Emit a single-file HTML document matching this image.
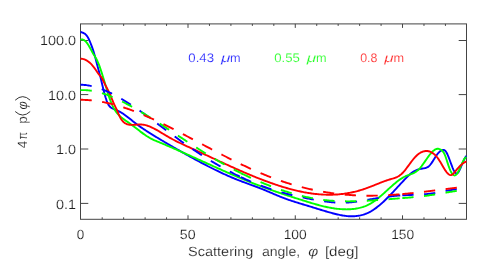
<!DOCTYPE html>
<html><head><meta charset="utf-8"><title>Phase function</title>
<style>
html,body{margin:0;padding:0;background:#fff;}
body{width:491px;height:271px;overflow:hidden;}
svg{display:block;}
text{font-family:"Liberation Sans",sans-serif;text-rendering:geometricPrecision;}
</style></head><body>
<svg width="491" height="271" viewBox="0 0 491 271">
<rect x="0" y="0" width="491" height="271" fill="#ffffff"/>
<defs><filter id="idf" x="-5%" y="-5%" width="110%" height="110%" color-interpolation-filters="sRGB"><feOffset dx="0" dy="0"/></filter><clipPath id="pc"><rect x="80.0" y="23.9" width="386.8" height="195.4"/></clipPath></defs>

<g stroke="#444444" stroke-width="1" fill="none">
<rect x="80.5" y="23.9" width="386.0" height="195.4"/>
<path d="M102.20,219.3 v-2.0 M102.20,23.9 v2.0"/>
<path d="M123.65,219.3 v-2.0 M123.65,23.9 v2.0"/>
<path d="M145.11,219.3 v-2.0 M145.11,23.9 v2.0"/>
<path d="M166.56,219.3 v-2.0 M166.56,23.9 v2.0"/>
<path d="M188.01,219.3 v-4.0 M188.01,23.9 v4.0"/>
<path d="M209.46,219.3 v-2.0 M209.46,23.9 v2.0"/>
<path d="M230.91,219.3 v-2.0 M230.91,23.9 v2.0"/>
<path d="M252.37,219.3 v-2.0 M252.37,23.9 v2.0"/>
<path d="M273.82,219.3 v-2.0 M273.82,23.9 v2.0"/>
<path d="M295.27,219.3 v-4.0 M295.27,23.9 v4.0"/>
<path d="M316.72,219.3 v-2.0 M316.72,23.9 v2.0"/>
<path d="M338.17,219.3 v-2.0 M338.17,23.9 v2.0"/>
<path d="M359.63,219.3 v-2.0 M359.63,23.9 v2.0"/>
<path d="M381.08,219.3 v-2.0 M381.08,23.9 v2.0"/>
<path d="M402.53,219.3 v-4.0 M402.53,23.9 v4.0"/>
<path d="M423.98,219.3 v-2.0 M423.98,23.9 v2.0"/>
<path d="M445.43,219.3 v-2.0 M445.43,23.9 v2.0"/>
<path d="M80.5,40.5 h7.8 M466.5,40.5 h-7.8"/>
<path d="M80.5,94.6 h7.8 M466.5,94.6 h-7.8"/>
<path d="M80.5,149.0 h7.8 M466.5,149.0 h-7.8"/>
<path d="M80.5,203.4 h7.8 M466.5,203.4 h-7.8"/>
</g>
<g clip-path="url(#pc)" fill="none" stroke-linejoin="round">
<path d="M80.5,32.03 L81.5,32.27 L82.5,32.58 L83.5,33.00 L84.5,33.58 L85.5,34.37 L86.5,35.42 L87.5,36.78 L88.5,38.49 L89.5,40.59 L90.5,43.00 L91.5,45.62 L92.5,48.40 L93.5,51.40 L94.5,54.69 L95.5,58.33 L96.5,62.19 L97.5,65.98 L98.5,69.65 L99.5,73.38 L100.5,77.33 L101.5,81.48 L102.5,85.69 L103.5,89.82 L104.5,93.70 L105.5,97.21 L106.5,100.29 L107.5,102.86 L108.5,104.87 L109.5,106.28 L110.5,107.23 L111.5,107.90 L112.5,108.45 L113.5,108.93 L114.5,109.36 L115.5,109.77 L116.5,110.18 L117.5,110.60 L118.5,111.05 L119.5,111.56 L120.5,112.11 L121.5,112.70 L122.5,113.33 L123.5,114.00 L124.5,114.70 L125.5,115.42 L126.5,116.17 L127.5,116.93 L128.5,117.71 L129.5,118.51 L130.5,119.31 L131.5,120.11 L132.5,120.92 L133.5,121.72 L134.5,122.51 L135.5,123.29 L136.5,124.05 L137.5,124.80 L138.5,125.53 L139.5,126.25 L140.5,126.95 L141.5,127.64 L142.5,128.32 L143.5,128.99 L144.5,129.65 L145.5,130.30 L146.5,130.94 L147.5,131.58 L148.5,132.22 L149.5,132.85 L150.5,133.48 L151.5,134.10 L152.5,134.73 L153.5,135.35 L154.5,135.96 L155.5,136.58 L156.5,137.19 L157.5,137.80 L158.5,138.41 L159.5,139.01 L160.5,139.61 L161.5,140.21 L162.5,140.81 L163.5,141.40 L164.5,141.99 L165.5,142.59 L166.5,143.17 L167.5,143.76 L168.5,144.35 L169.5,144.93 L170.5,145.51 L171.5,146.09 L172.5,146.67 L173.5,147.25 L174.5,147.82 L175.5,148.40 L176.5,148.97 L177.5,149.54 L178.5,150.11 L179.5,150.68 L180.5,151.25 L181.5,151.82 L182.5,152.38 L183.5,152.95 L184.5,153.51 L185.5,154.08 L186.5,154.64 L187.5,155.20 L188.5,155.75 L189.5,156.31 L190.5,156.87 L191.5,157.42 L192.5,157.97 L193.5,158.52 L194.5,159.07 L195.5,159.61 L196.5,160.15 L197.5,160.69 L198.5,161.23 L199.5,161.77 L200.5,162.30 L201.5,162.84 L202.5,163.36 L203.5,163.89 L204.5,164.41 L205.5,164.94 L206.5,165.45 L207.5,165.97 L208.5,166.48 L209.5,166.99 L210.5,167.50 L211.5,168.00 L212.5,168.50 L213.5,169.00 L214.5,169.50 L215.5,169.99 L216.5,170.47 L217.5,170.96 L218.5,171.44 L219.5,171.91 L220.5,172.39 L221.5,172.86 L222.5,173.32 L223.5,173.78 L224.5,174.24 L225.5,174.70 L226.5,175.15 L227.5,175.59 L228.5,176.03 L229.5,176.47 L230.5,176.90 L231.5,177.33 L232.5,177.75 L233.5,178.17 L234.5,178.59 L235.5,179.00 L236.5,179.40 L237.5,179.80 L238.5,180.20 L239.5,180.59 L240.5,180.98 L241.5,181.36 L242.5,181.74 L243.5,182.11 L244.5,182.48 L245.5,182.85 L246.5,183.22 L247.5,183.58 L248.5,183.94 L249.5,184.31 L250.5,184.67 L251.5,185.03 L252.5,185.40 L253.5,185.76 L254.5,186.13 L255.5,186.50 L256.5,186.87 L257.5,187.24 L258.5,187.62 L259.5,188.01 L260.5,188.39 L261.5,188.78 L262.5,189.18 L263.5,189.59 L264.5,190.00 L265.5,190.41 L266.5,190.83 L267.5,191.26 L268.5,191.69 L269.5,192.12 L270.5,192.56 L271.5,192.99 L272.5,193.43 L273.5,193.86 L274.5,194.29 L275.5,194.72 L276.5,195.15 L277.5,195.57 L278.5,195.99 L279.5,196.40 L280.5,196.81 L281.5,197.21 L282.5,197.59 L283.5,197.98 L284.5,198.35 L285.5,198.72 L286.5,199.08 L287.5,199.43 L288.5,199.78 L289.5,200.12 L290.5,200.46 L291.5,200.79 L292.5,201.12 L293.5,201.44 L294.5,201.76 L295.5,202.08 L296.5,202.39 L297.5,202.70 L298.5,203.01 L299.5,203.32 L300.5,203.62 L301.5,203.92 L302.5,204.22 L303.5,204.52 L304.5,204.82 L305.5,205.12 L306.5,205.42 L307.5,205.72 L308.5,206.02 L309.5,206.32 L310.5,206.62 L311.5,206.93 L312.5,207.24 L313.5,207.55 L314.5,207.86 L315.5,208.17 L316.5,208.48 L317.5,208.79 L318.5,209.10 L319.5,209.41 L320.5,209.72 L321.5,210.02 L322.5,210.33 L323.5,210.63 L324.5,210.94 L325.5,211.23 L326.5,211.53 L327.5,211.82 L328.5,212.11 L329.5,212.39 L330.5,212.67 L331.5,212.95 L332.5,213.22 L333.5,213.48 L334.5,213.74 L335.5,213.99 L336.5,214.23 L337.5,214.46 L338.5,214.68 L339.5,214.90 L340.5,215.10 L341.5,215.28 L342.5,215.46 L343.5,215.62 L344.5,215.76 L345.5,215.89 L346.5,216.01 L347.5,216.10 L348.5,216.18 L349.5,216.24 L350.5,216.27 L351.5,216.29 L352.5,216.29 L353.5,216.26 L354.5,216.21 L355.5,216.14 L356.5,216.04 L357.5,215.92 L358.5,215.76 L359.5,215.59 L360.5,215.38 L361.5,215.14 L362.5,214.88 L363.5,214.58 L364.5,214.25 L365.5,213.89 L366.5,213.50 L367.5,213.07 L368.5,212.61 L369.5,212.11 L370.5,211.57 L371.5,211.00 L372.5,210.39 L373.5,209.75 L374.5,209.07 L375.5,208.36 L376.5,207.62 L377.5,206.85 L378.5,206.05 L379.5,205.23 L380.5,204.37 L381.5,203.50 L382.5,202.60 L383.5,201.68 L384.5,200.73 L385.5,199.77 L386.5,198.79 L387.5,197.80 L388.5,196.79 L389.5,195.76 L390.5,194.72 L391.5,193.67 L392.5,192.61 L393.5,191.55 L394.5,190.47 L395.5,189.39 L396.5,188.30 L397.5,187.22 L398.5,186.13 L399.5,185.04 L400.5,183.96 L401.5,182.87 L402.5,181.80 L403.5,180.73 L404.5,179.67 L405.5,178.62 L406.5,177.59 L407.5,176.58 L408.5,175.61 L409.5,174.69 L410.5,173.81 L411.5,173.01 L412.5,172.28 L413.5,171.63 L414.5,171.06 L415.5,170.56 L416.5,170.13 L417.5,169.75 L418.5,169.43 L419.5,169.15 L420.5,168.91 L421.5,168.70 L422.5,168.52 L423.5,168.35 L424.5,168.19 L425.5,167.98 L426.5,167.68 L427.5,167.23 L428.5,166.58 L429.5,165.67 L430.5,164.50 L431.5,163.14 L432.5,161.64 L433.5,160.04 L434.5,158.43 L435.5,156.83 L436.5,155.33 L437.5,153.96 L438.5,152.79 L439.5,151.83 L440.5,151.05 L441.5,150.44 L442.5,150.03 L443.5,149.93 L444.5,150.24 L445.5,151.08 L446.5,152.53 L447.5,154.50 L448.5,156.86 L449.5,159.48 L450.5,162.22 L451.5,164.94 L452.5,167.52 L453.5,169.82 L454.5,171.71 L455.5,173.03 L456.5,173.59 L457.5,173.22 L458.5,172.02 L459.5,170.23 L460.5,168.03 L461.5,165.60 L462.5,163.13 L463.5,160.80 L464.5,158.75 L465.5,157.07 L466.5,155.80" stroke="#0000ff" stroke-width="1.9"/>

<path d="M80.5,39.61 L81.5,39.41 L82.5,39.48 L83.5,39.81 L84.5,40.40 L85.5,41.24 L86.5,42.32 L87.5,43.65 L88.5,45.20 L89.5,46.94 L90.5,48.78 L91.5,50.66 L92.5,52.48 L93.5,54.19 L94.5,55.84 L95.5,57.51 L96.5,59.30 L97.5,61.27 L98.5,63.53 L99.5,66.13 L100.5,69.02 L101.5,72.10 L102.5,75.25 L103.5,78.46 L104.5,81.75 L105.5,85.12 L106.5,88.56 L107.5,91.93 L108.5,95.11 L109.5,98.08 L110.5,100.83 L111.5,103.33 L112.5,105.59 L113.5,107.60 L114.5,109.38 L115.5,110.96 L116.5,112.35 L117.5,113.59 L118.5,114.70 L119.5,115.69 L120.5,116.60 L121.5,117.45 L122.5,118.26 L123.5,119.02 L124.5,119.76 L125.5,120.47 L126.5,121.17 L127.5,121.86 L128.5,122.55 L129.5,123.24 L130.5,123.96 L131.5,124.69 L132.5,125.44 L133.5,126.20 L134.5,126.96 L135.5,127.74 L136.5,128.52 L137.5,129.30 L138.5,130.08 L139.5,130.86 L140.5,131.63 L141.5,132.38 L142.5,133.13 L143.5,133.86 L144.5,134.57 L145.5,135.26 L146.5,135.93 L147.5,136.56 L148.5,137.17 L149.5,137.75 L150.5,138.30 L151.5,138.82 L152.5,139.32 L153.5,139.80 L154.5,140.27 L155.5,140.71 L156.5,141.15 L157.5,141.57 L158.5,141.99 L159.5,142.41 L160.5,142.82 L161.5,143.23 L162.5,143.65 L163.5,144.07 L164.5,144.49 L165.5,144.91 L166.5,145.34 L167.5,145.76 L168.5,146.19 L169.5,146.62 L170.5,147.05 L171.5,147.48 L172.5,147.91 L173.5,148.35 L174.5,148.78 L175.5,149.22 L176.5,149.66 L177.5,150.10 L178.5,150.54 L179.5,150.98 L180.5,151.42 L181.5,151.87 L182.5,152.31 L183.5,152.76 L184.5,153.20 L185.5,153.65 L186.5,154.10 L187.5,154.55 L188.5,154.99 L189.5,155.44 L190.5,155.89 L191.5,156.35 L192.5,156.80 L193.5,157.25 L194.5,157.70 L195.5,158.15 L196.5,158.61 L197.5,159.06 L198.5,159.51 L199.5,159.96 L200.5,160.42 L201.5,160.87 L202.5,161.32 L203.5,161.78 L204.5,162.23 L205.5,162.68 L206.5,163.14 L207.5,163.59 L208.5,164.04 L209.5,164.49 L210.5,164.94 L211.5,165.40 L212.5,165.85 L213.5,166.30 L214.5,166.75 L215.5,167.20 L216.5,167.64 L217.5,168.09 L218.5,168.54 L219.5,168.98 L220.5,169.43 L221.5,169.88 L222.5,170.32 L223.5,170.76 L224.5,171.20 L225.5,171.64 L226.5,172.08 L227.5,172.52 L228.5,172.96 L229.5,173.40 L230.5,173.83 L231.5,174.27 L232.5,174.70 L233.5,175.13 L234.5,175.56 L235.5,175.99 L236.5,176.42 L237.5,176.84 L238.5,177.27 L239.5,177.69 L240.5,178.11 L241.5,178.53 L242.5,178.94 L243.5,179.36 L244.5,179.77 L245.5,180.18 L246.5,180.59 L247.5,181.00 L248.5,181.41 L249.5,181.81 L250.5,182.21 L251.5,182.61 L252.5,183.01 L253.5,183.41 L254.5,183.80 L255.5,184.19 L256.5,184.58 L257.5,184.96 L258.5,185.35 L259.5,185.73 L260.5,186.11 L261.5,186.48 L262.5,186.86 L263.5,187.23 L264.5,187.60 L265.5,187.96 L266.5,188.33 L267.5,188.69 L268.5,189.04 L269.5,189.40 L270.5,189.75 L271.5,190.10 L272.5,190.45 L273.5,190.80 L274.5,191.14 L275.5,191.49 L276.5,191.83 L277.5,192.17 L278.5,192.51 L279.5,192.84 L280.5,193.18 L281.5,193.51 L282.5,193.84 L283.5,194.17 L284.5,194.50 L285.5,194.82 L286.5,195.15 L287.5,195.48 L288.5,195.80 L289.5,196.12 L290.5,196.44 L291.5,196.77 L292.5,197.09 L293.5,197.41 L294.5,197.72 L295.5,198.04 L296.5,198.36 L297.5,198.68 L298.5,199.00 L299.5,199.31 L300.5,199.63 L301.5,199.95 L302.5,200.26 L303.5,200.58 L304.5,200.89 L305.5,201.21 L306.5,201.52 L307.5,201.83 L308.5,202.14 L309.5,202.45 L310.5,202.75 L311.5,203.05 L312.5,203.35 L313.5,203.64 L314.5,203.93 L315.5,204.22 L316.5,204.50 L317.5,204.77 L318.5,205.04 L319.5,205.31 L320.5,205.57 L321.5,205.82 L322.5,206.07 L323.5,206.31 L324.5,206.55 L325.5,206.77 L326.5,206.99 L327.5,207.20 L328.5,207.41 L329.5,207.60 L330.5,207.79 L331.5,207.97 L332.5,208.13 L333.5,208.29 L334.5,208.44 L335.5,208.58 L336.5,208.70 L337.5,208.82 L338.5,208.93 L339.5,209.02 L340.5,209.10 L341.5,209.17 L342.5,209.23 L343.5,209.27 L344.5,209.30 L345.5,209.32 L346.5,209.33 L347.5,209.32 L348.5,209.29 L349.5,209.25 L350.5,209.20 L351.5,209.13 L352.5,209.05 L353.5,208.95 L354.5,208.83 L355.5,208.69 L356.5,208.53 L357.5,208.35 L358.5,208.15 L359.5,207.93 L360.5,207.68 L361.5,207.40 L362.5,207.10 L363.5,206.77 L364.5,206.42 L365.5,206.03 L366.5,205.61 L367.5,205.16 L368.5,204.67 L369.5,204.16 L370.5,203.60 L371.5,203.01 L372.5,202.39 L373.5,201.72 L374.5,201.02 L375.5,200.29 L376.5,199.53 L377.5,198.75 L378.5,197.93 L379.5,197.10 L380.5,196.25 L381.5,195.38 L382.5,194.49 L383.5,193.60 L384.5,192.70 L385.5,191.79 L386.5,190.87 L387.5,189.96 L388.5,189.04 L389.5,188.13 L390.5,187.23 L391.5,186.34 L392.5,185.45 L393.5,184.59 L394.5,183.73 L395.5,182.90 L396.5,182.09 L397.5,181.31 L398.5,180.55 L399.5,179.82 L400.5,179.13 L401.5,178.47 L402.5,177.85 L403.5,177.26 L404.5,176.73 L405.5,176.23 L406.5,175.79 L407.5,175.38 L408.5,175.02 L409.5,174.66 L410.5,174.31 L411.5,173.95 L412.5,173.55 L413.5,173.11 L414.5,172.61 L415.5,172.03 L416.5,171.36 L417.5,170.59 L418.5,169.69 L419.5,168.67 L420.5,167.52 L421.5,166.27 L422.5,164.94 L423.5,163.55 L424.5,162.11 L425.5,160.66 L426.5,159.21 L427.5,157.77 L428.5,156.37 L429.5,155.03 L430.5,153.77 L431.5,152.61 L432.5,151.56 L433.5,150.65 L434.5,149.89 L435.5,149.32 L436.5,148.94 L437.5,148.77 L438.5,148.82 L439.5,149.08 L440.5,149.53 L441.5,150.16 L442.5,151.03 L443.5,152.29 L444.5,154.07 L445.5,156.51 L446.5,159.48 L447.5,162.63 L448.5,165.64 L449.5,168.40 L450.5,170.81 L451.5,172.77 L452.5,174.24 L453.5,175.15 L454.5,175.47 L455.5,175.19 L456.5,174.38 L457.5,173.08 L458.5,171.35 L459.5,169.28 L460.5,166.99 L461.5,164.63 L462.5,162.36 L463.5,160.32 L464.5,158.67 L465.5,157.55 L466.5,157.12" stroke="#00ff00" stroke-width="1.9"/>

<path d="M80.5,58.80 L81.5,58.78 L82.5,58.87 L83.5,59.07 L84.5,59.38 L85.5,59.80 L86.5,60.32 L87.5,60.94 L88.5,61.67 L89.5,62.50 L90.5,63.42 L91.5,64.45 L92.5,65.57 L93.5,66.79 L94.5,68.10 L95.5,69.50 L96.5,71.00 L97.5,72.54 L98.5,73.88 L99.5,75.04 L100.5,76.19 L101.5,77.53 L102.5,79.22 L103.5,81.21 L104.5,83.30 L105.5,85.31 L106.5,87.22 L107.5,89.13 L108.5,91.14 L109.5,93.32 L110.5,95.64 L111.5,98.03 L112.5,100.44 L113.5,102.79 L114.5,105.01 L115.5,107.07 L116.5,109.11 L117.5,111.37 L118.5,113.81 L119.5,116.09 L120.5,118.02 L121.5,119.64 L122.5,120.97 L123.5,122.03 L124.5,122.87 L125.5,123.51 L126.5,123.99 L127.5,124.32 L128.5,124.55 L129.5,124.71 L130.5,124.80 L131.5,124.85 L132.5,124.86 L133.5,124.84 L134.5,124.79 L135.5,124.73 L136.5,124.67 L137.5,124.61 L138.5,124.55 L139.5,124.52 L140.5,124.52 L141.5,124.55 L142.5,124.63 L143.5,124.76 L144.5,124.94 L145.5,125.16 L146.5,125.42 L147.5,125.73 L148.5,126.07 L149.5,126.45 L150.5,126.86 L151.5,127.31 L152.5,127.78 L153.5,128.27 L154.5,128.79 L155.5,129.33 L156.5,129.88 L157.5,130.45 L158.5,131.04 L159.5,131.63 L160.5,132.23 L161.5,132.84 L162.5,133.45 L163.5,134.05 L164.5,134.66 L165.5,135.26 L166.5,135.86 L167.5,136.44 L168.5,137.01 L169.5,137.58 L170.5,138.13 L171.5,138.68 L172.5,139.22 L173.5,139.75 L174.5,140.27 L175.5,140.78 L176.5,141.29 L177.5,141.79 L178.5,142.28 L179.5,142.77 L180.5,143.26 L181.5,143.74 L182.5,144.21 L183.5,144.68 L184.5,145.15 L185.5,145.62 L186.5,146.08 L187.5,146.54 L188.5,146.99 L189.5,147.45 L190.5,147.91 L191.5,148.36 L192.5,148.81 L193.5,149.27 L194.5,149.72 L195.5,150.18 L196.5,150.64 L197.5,151.10 L198.5,151.55 L199.5,152.01 L200.5,152.48 L201.5,152.94 L202.5,153.40 L203.5,153.86 L204.5,154.32 L205.5,154.79 L206.5,155.25 L207.5,155.71 L208.5,156.18 L209.5,156.64 L210.5,157.11 L211.5,157.57 L212.5,158.04 L213.5,158.50 L214.5,158.96 L215.5,159.43 L216.5,159.89 L217.5,160.36 L218.5,160.82 L219.5,161.28 L220.5,161.74 L221.5,162.20 L222.5,162.66 L223.5,163.12 L224.5,163.58 L225.5,164.04 L226.5,164.50 L227.5,164.96 L228.5,165.41 L229.5,165.87 L230.5,166.32 L231.5,166.77 L232.5,167.22 L233.5,167.67 L234.5,168.12 L235.5,168.57 L236.5,169.01 L237.5,169.46 L238.5,169.90 L239.5,170.34 L240.5,170.78 L241.5,171.22 L242.5,171.65 L243.5,172.08 L244.5,172.52 L245.5,172.94 L246.5,173.37 L247.5,173.80 L248.5,174.22 L249.5,174.64 L250.5,175.06 L251.5,175.47 L252.5,175.88 L253.5,176.29 L254.5,176.70 L255.5,177.11 L256.5,177.51 L257.5,177.91 L258.5,178.30 L259.5,178.70 L260.5,179.09 L261.5,179.48 L262.5,179.86 L263.5,180.24 L264.5,180.62 L265.5,180.99 L266.5,181.37 L267.5,181.73 L268.5,182.10 L269.5,182.46 L270.5,182.82 L271.5,183.17 L272.5,183.52 L273.5,183.87 L274.5,184.21 L275.5,184.55 L276.5,184.88 L277.5,185.21 L278.5,185.54 L279.5,185.86 L280.5,186.18 L281.5,186.49 L282.5,186.80 L283.5,187.10 L284.5,187.40 L285.5,187.70 L286.5,187.99 L287.5,188.27 L288.5,188.55 L289.5,188.83 L290.5,189.10 L291.5,189.37 L292.5,189.63 L293.5,189.88 L294.5,190.13 L295.5,190.38 L296.5,190.61 L297.5,190.85 L298.5,191.07 L299.5,191.29 L300.5,191.51 L301.5,191.72 L302.5,191.92 L303.5,192.12 L304.5,192.31 L305.5,192.49 L306.5,192.67 L307.5,192.84 L308.5,193.00 L309.5,193.16 L310.5,193.31 L311.5,193.45 L312.5,193.59 L313.5,193.72 L314.5,193.84 L315.5,193.95 L316.5,194.06 L317.5,194.16 L318.5,194.25 L319.5,194.33 L320.5,194.41 L321.5,194.48 L322.5,194.54 L323.5,194.59 L324.5,194.63 L325.5,194.67 L326.5,194.70 L327.5,194.72 L328.5,194.73 L329.5,194.73 L330.5,194.72 L331.5,194.71 L332.5,194.68 L333.5,194.65 L334.5,194.61 L335.5,194.56 L336.5,194.50 L337.5,194.43 L338.5,194.35 L339.5,194.26 L340.5,194.16 L341.5,194.06 L342.5,193.94 L343.5,193.82 L344.5,193.68 L345.5,193.54 L346.5,193.38 L347.5,193.22 L348.5,193.05 L349.5,192.87 L350.5,192.67 L351.5,192.47 L352.5,192.26 L353.5,192.04 L354.5,191.80 L355.5,191.56 L356.5,191.31 L357.5,191.05 L358.5,190.77 L359.5,190.49 L360.5,190.20 L361.5,189.89 L362.5,189.58 L363.5,189.25 L364.5,188.92 L365.5,188.57 L366.5,188.22 L367.5,187.85 L368.5,187.48 L369.5,187.10 L370.5,186.71 L371.5,186.32 L372.5,185.92 L373.5,185.52 L374.5,185.12 L375.5,184.72 L376.5,184.32 L377.5,183.92 L378.5,183.52 L379.5,183.12 L380.5,182.73 L381.5,182.34 L382.5,181.95 L383.5,181.58 L384.5,181.21 L385.5,180.85 L386.5,180.50 L387.5,180.16 L388.5,179.84 L389.5,179.52 L390.5,179.22 L391.5,178.93 L392.5,178.65 L393.5,178.35 L394.5,178.02 L395.5,177.66 L396.5,177.25 L397.5,176.78 L398.5,176.23 L399.5,175.60 L400.5,174.86 L401.5,174.02 L402.5,173.05 L403.5,171.98 L404.5,170.81 L405.5,169.57 L406.5,168.27 L407.5,166.94 L408.5,165.58 L409.5,164.21 L410.5,162.86 L411.5,161.53 L412.5,160.24 L413.5,158.99 L414.5,157.82 L415.5,156.72 L416.5,155.72 L417.5,154.82 L418.5,154.01 L419.5,153.31 L420.5,152.70 L421.5,152.18 L422.5,151.76 L423.5,151.44 L424.5,151.20 L425.5,151.06 L426.5,151.01 L427.5,151.06 L428.5,151.21 L429.5,151.46 L430.5,151.83 L431.5,152.31 L432.5,152.90 L433.5,153.62 L434.5,154.46 L435.5,155.42 L436.5,156.52 L437.5,157.76 L438.5,159.13 L439.5,160.65 L440.5,162.28 L441.5,163.99 L442.5,165.73 L443.5,167.46 L444.5,169.11 L445.5,170.66 L446.5,172.05 L447.5,173.24 L448.5,174.18 L449.5,174.82 L450.5,175.11 L451.5,175.01 L452.5,174.45 L453.5,173.50 L454.5,172.32 L455.5,171.07 L456.5,169.86 L457.5,168.69 L458.5,167.58 L459.5,166.52 L460.5,165.53 L461.5,164.61 L462.5,163.77 L463.5,163.03 L464.5,162.37 L465.5,161.83 L466.5,161.41" stroke="#ff0000" stroke-width="1.9"/>

<path d="M80.5,84.69 L81.5,84.72 L82.5,84.78 L83.5,84.85 L84.5,84.94 L85.5,85.05 L86.5,85.18 L87.5,85.33 L88.5,85.49 L89.5,85.67 L90.5,85.87 L91.5,86.08 L92.5,86.32 L93.5,86.56 L94.5,86.83 L95.5,87.11 L96.5,87.40 L97.5,87.71 L98.5,88.03 L99.5,88.37 L100.5,88.73 L101.5,89.09 L102.5,89.47 L103.5,89.87 L104.5,90.27 L105.5,90.69 L106.5,91.13 L107.5,91.57 L108.5,92.03 L109.5,92.50 L110.5,92.98 L111.5,93.47 L112.5,93.97 L113.5,94.48 L114.5,95.00 L115.5,95.53 L116.5,96.08 L117.5,96.63 L118.5,97.19 L119.5,97.76 L120.5,98.34 L121.5,98.92 L122.5,99.52 L123.5,100.12 L124.5,100.73 L125.5,101.35 L126.5,101.97 L127.5,102.60 L128.5,103.24 L129.5,103.88 L130.5,104.53 L131.5,105.18 L132.5,105.84 L133.5,106.51 L134.5,107.17 L135.5,107.85 L136.5,108.53 L137.5,109.21 L138.5,109.90 L139.5,110.59 L140.5,111.29 L141.5,111.99 L142.5,112.70 L143.5,113.40 L144.5,114.12 L145.5,114.83 L146.5,115.55 L147.5,116.27 L148.5,117.00 L149.5,117.73 L150.5,118.46 L151.5,119.19 L152.5,119.93 L153.5,120.67 L154.5,121.41 L155.5,122.15 L156.5,122.90 L157.5,123.64 L158.5,124.39 L159.5,125.14 L160.5,125.89 L161.5,126.64 L162.5,127.40 L163.5,128.15 L164.5,128.90 L165.5,129.65 L166.5,130.41 L167.5,131.16 L168.5,131.91 L169.5,132.66 L170.5,133.40 L171.5,134.15 L172.5,134.89 L173.5,135.63 L174.5,136.37 L175.5,137.10 L176.5,137.83 L177.5,138.56 L178.5,139.28 L179.5,140.00 L180.5,140.72 L181.5,141.43 L182.5,142.15 L183.5,142.85 L184.5,143.56 L185.5,144.26 L186.5,144.96 L187.5,145.65 L188.5,146.34 L189.5,147.03 L190.5,147.71 L191.5,148.39 L192.5,149.07 L193.5,149.74 L194.5,150.41 L195.5,151.08 L196.5,151.74 L197.5,152.40 L198.5,153.06 L199.5,153.71 L200.5,154.35 L201.5,155.00 L202.5,155.64 L203.5,156.28 L204.5,156.91 L205.5,157.54 L206.5,158.16 L207.5,158.78 L208.5,159.40 L209.5,160.01 L210.5,160.62 L211.5,161.23 L212.5,161.83 L213.5,162.42 L214.5,163.02 L215.5,163.61 L216.5,164.19 L217.5,164.77 L218.5,165.35 L219.5,165.92 L220.5,166.49 L221.5,167.05 L222.5,167.61 L223.5,168.17 L224.5,168.72 L225.5,169.26 L226.5,169.81 L227.5,170.34 L228.5,170.88 L229.5,171.41 L230.5,171.93 L231.5,172.45 L232.5,172.96 L233.5,173.48 L234.5,173.98 L235.5,174.48 L236.5,174.98 L237.5,175.47 L238.5,175.96 L239.5,176.44 L240.5,176.92 L240.7,177.02" stroke="#0000ff" stroke-width="1.9" stroke-dasharray="11.3 10.5"/>
<path d="M240.7,177.02 L241.7,177.49 L242.7,177.96 L243.7,178.42 L244.7,178.88 L245.7,179.33 L246.7,179.78 L247.7,180.23 L248.7,180.67 L249.7,181.10 L250.7,181.53 L251.7,181.95 L252.7,182.37 L253.7,182.79 L254.7,183.20 L255.7,183.60 L256.7,184.00 L257.7,184.39 L258.7,184.78 L259.7,185.16 L260.7,185.54 L261.7,185.92 L262.7,186.28 L263.7,186.65 L264.7,187.00 L265.7,187.36 L266.7,187.70 L267.7,188.05 L268.7,188.38 L269.7,188.72 L270.7,189.05 L271.7,189.37 L272.7,189.69 L273.7,190.00 L274.7,190.31 L275.7,190.62 L276.7,190.92 L277.7,191.22 L278.7,191.51 L279.7,191.80 L280.7,192.08 L281.7,192.36 L282.7,192.64 L283.7,192.91 L284.7,193.18 L285.7,193.45 L286.7,193.71 L287.7,193.97 L288.7,194.22 L289.7,194.47 L290.7,194.72 L291.7,194.96 L292.7,195.20 L293.7,195.44 L294.7,195.67 L295.7,195.91 L296.7,196.13 L297.7,196.36 L298.7,196.58 L299.7,196.80 L300.7,197.01 L301.7,197.23 L302.7,197.44 L303.7,197.64 L304.7,197.85 L305.7,198.05 L306.7,198.25 L307.7,198.45 L308.7,198.64 L309.7,198.84 L310.7,199.03 L311.7,199.22 L312.7,199.40 L313.7,199.59 L314.7,199.77 L315.7,199.95 L316.7,200.12 L317.7,200.30 L318.7,200.47 L319.7,200.63 L320.7,200.80 L321.7,200.95 L322.7,201.11 L323.7,201.25 L324.7,201.40 L325.7,201.53 L326.7,201.67 L327.7,201.79 L328.7,201.91 L329.7,202.02 L330.7,202.13 L331.7,202.22 L332.7,202.31 L333.7,202.40 L334.7,202.47 L335.7,202.54 L336.7,202.59 L337.7,202.64 L338.7,202.68 L339.7,202.71 L340.7,202.72 L341.7,202.73 L342.7,202.73 L343.7,202.71 L344.7,202.69 L345.7,202.65 L346.7,202.60 L347.7,202.54 L348.7,202.47 L349.7,202.39 L350.7,202.30 L351.7,202.20 L352.7,202.09 L353.7,201.97 L354.7,201.85 L355.7,201.72 L356.7,201.58 L357.7,201.43 L358.7,201.28 L359.7,201.13 L360.7,200.97 L361.7,200.81 L362.7,200.65 L363.7,200.48 L364.7,200.31 L365.7,200.14 L366.7,199.97 L367.7,199.80 L368.7,199.63 L369.7,199.46 L370.7,199.29 L371.7,199.12 L372.7,198.95 L373.7,198.79 L374.7,198.63 L375.7,198.46 L376.7,198.30 L377.7,198.15 L378.7,197.99 L379.7,197.84 L380.7,197.69 L381.7,197.54 L382.7,197.39 L383.7,197.25 L384.7,197.11 L385.7,196.98 L386.7,196.84 L387.7,196.71 L388.7,196.59 L389.7,196.47 L390.7,196.35 L391.7,196.24 L392.7,196.13 L393.7,196.02 L394.7,195.92 L395.7,195.83 L396.7,195.74 L397.7,195.66 L398.7,195.58 L399.7,195.50 L400.7,195.44 L401.7,195.37 L402.3,195.34" stroke="#0000ff" stroke-width="1.9" stroke-dasharray="11.3 10.5"/>
<path d="M402.3,195.34 L403.3,195.28 L404.3,195.23 L405.3,195.18 L406.3,195.14 L407.3,195.10 L408.3,195.06 L409.3,195.02 L410.3,194.98 L411.3,194.94 L412.3,194.90 L413.3,194.87 L414.3,194.83 L415.3,194.79 L416.3,194.75 L417.3,194.70 L418.3,194.65 L419.3,194.60 L420.3,194.55 L421.3,194.49 L422.3,194.43 L423.3,194.36 L424.3,194.28 L425.3,194.20 L426.3,194.11 L427.3,194.02 L428.3,193.92 L429.3,193.81 L430.3,193.69 L431.3,193.56 L432.3,193.42 L433.3,193.28 L434.3,193.12 L435.3,192.96 L436.3,192.78 L437.3,192.60 L438.3,192.40 L439.3,192.21 L440.3,192.00 L441.3,191.80 L442.3,191.60 L443.3,191.39 L444.3,191.19 L445.3,190.99 L446.3,190.80 L447.3,190.62 L448.3,190.44 L449.3,190.27 L450.3,190.10 L451.3,189.94 L452.3,189.79 L453.3,189.64 L454.3,189.51 L455.3,189.37 L456.3,189.25 L457.3,189.13 L458.3,189.03 L459.3,188.92 L460.3,188.83 L461.3,188.75 L462.3,188.67 L463.3,188.60 L464.3,188.54 L465.3,188.49 L466.3,188.44 L466.5,188.44" stroke="#0000ff" stroke-width="1.9" stroke-dasharray="11.3 10.5"/>

<path d="M80.5,90.16 L81.5,90.12 L82.5,90.10 L83.5,90.10 L84.5,90.11 L85.5,90.15 L86.5,90.21 L87.5,90.28 L88.5,90.37 L89.5,90.48 L90.5,90.61 L91.5,90.75 L92.5,90.92 L93.5,91.09 L94.5,91.29 L95.5,91.50 L96.5,91.72 L97.5,91.96 L98.5,92.22 L99.5,92.48 L100.5,92.77 L101.5,93.06 L102.5,93.37 L103.5,93.69 L104.5,94.02 L105.5,94.37 L106.5,94.73 L107.5,95.10 L108.5,95.48 L109.5,95.87 L110.5,96.27 L111.5,96.68 L112.5,97.09 L113.5,97.52 L114.5,97.96 L115.5,98.41 L116.5,98.86 L117.5,99.32 L118.5,99.79 L119.5,100.27 L120.5,100.75 L121.5,101.24 L122.5,101.74 L123.5,102.24 L124.5,102.75 L125.5,103.27 L126.5,103.79 L127.5,104.32 L128.5,104.85 L129.5,105.39 L130.5,105.93 L131.5,106.48 L132.5,107.04 L133.5,107.59 L134.5,108.16 L135.5,108.73 L136.5,109.30 L137.5,109.88 L138.5,110.46 L139.5,111.05 L140.5,111.64 L141.5,112.23 L142.5,112.83 L143.5,113.43 L144.5,114.03 L145.5,114.64 L146.5,115.25 L147.5,115.87 L148.5,116.49 L149.5,117.11 L150.5,117.73 L151.5,118.36 L152.5,118.99 L153.5,119.62 L154.5,120.26 L155.5,120.90 L156.5,121.54 L157.5,122.18 L158.5,122.82 L159.5,123.47 L160.5,124.11 L161.5,124.76 L162.5,125.41 L163.5,126.07 L164.5,126.72 L165.5,127.37 L166.5,128.03 L167.5,128.68 L168.5,129.34 L169.5,130.00 L170.5,130.66 L171.5,131.32 L172.5,131.98 L173.5,132.64 L174.5,133.30 L175.5,133.96 L176.5,134.62 L177.5,135.28 L178.5,135.93 L179.5,136.59 L180.5,137.25 L181.5,137.91 L182.5,138.57 L183.5,139.22 L184.5,139.88 L185.5,140.53 L186.5,141.19 L187.5,141.84 L188.5,142.49 L189.5,143.14 L190.5,143.79 L191.5,144.44 L192.5,145.08 L193.5,145.73 L194.5,146.37 L195.5,147.01 L196.5,147.65 L197.5,148.29 L198.5,148.93 L199.5,149.56 L200.5,150.19 L201.5,150.82 L202.5,151.45 L203.5,152.08 L204.5,152.70 L205.5,153.32 L206.5,153.94 L207.5,154.55 L208.5,155.17 L209.5,155.78 L210.5,156.38 L211.5,156.99 L212.5,157.59 L213.5,158.19 L214.5,158.78 L215.5,159.38 L216.5,159.96 L217.5,160.55 L218.5,161.13 L219.5,161.71 L220.5,162.28 L221.5,162.85 L222.5,163.42 L223.5,163.98 L224.5,164.54 L225.5,165.10 L226.5,165.65 L227.5,166.20 L228.5,166.74 L229.5,167.28 L230.5,167.82 L231.5,168.35 L232.5,168.88 L233.5,169.40 L234.5,169.92 L235.5,170.43 L236.5,170.95 L237.5,171.45 L238.5,171.96 L239.5,172.46 L240.5,172.96 L240.7,173.05" stroke="#00ff00" stroke-width="1.9" stroke-dasharray="11.3 10.5"/>
<path d="M240.7,173.05 L241.7,173.55 L242.7,174.03 L243.7,174.52 L244.7,175.00 L245.7,175.47 L246.7,175.95 L247.7,176.42 L248.7,176.88 L249.7,177.34 L250.7,177.80 L251.7,178.25 L252.7,178.70 L253.7,179.15 L254.7,179.59 L255.7,180.03 L256.7,180.46 L257.7,180.89 L258.7,181.32 L259.7,181.74 L260.7,182.16 L261.7,182.58 L262.7,182.99 L263.7,183.39 L264.7,183.80 L265.7,184.20 L266.7,184.59 L267.7,184.99 L268.7,185.38 L269.7,185.76 L270.7,186.14 L271.7,186.52 L272.7,186.89 L273.7,187.26 L274.7,187.63 L275.7,187.99 L276.7,188.35 L277.7,188.71 L278.7,189.06 L279.7,189.40 L280.7,189.74 L281.7,190.08 L282.7,190.42 L283.7,190.75 L284.7,191.07 L285.7,191.39 L286.7,191.71 L287.7,192.02 L288.7,192.33 L289.7,192.63 L290.7,192.93 L291.7,193.23 L292.7,193.52 L293.7,193.80 L294.7,194.08 L295.7,194.36 L296.7,194.63 L297.7,194.89 L298.7,195.16 L299.7,195.41 L300.7,195.66 L301.7,195.91 L302.7,196.15 L303.7,196.39 L304.7,196.62 L305.7,196.84 L306.7,197.06 L307.7,197.28 L308.7,197.49 L309.7,197.69 L310.7,197.89 L311.7,198.08 L312.7,198.27 L313.7,198.45 L314.7,198.63 L315.7,198.80 L316.7,198.97 L317.7,199.12 L318.7,199.28 L319.7,199.43 L320.7,199.57 L321.7,199.70 L322.7,199.84 L323.7,199.96 L324.7,200.08 L325.7,200.19 L326.7,200.30 L327.7,200.40 L328.7,200.49 L329.7,200.58 L330.7,200.66 L331.7,200.74 L332.7,200.81 L333.7,200.88 L334.7,200.94 L335.7,201.00 L336.7,201.05 L337.7,201.10 L338.7,201.14 L339.7,201.18 L340.7,201.22 L341.7,201.25 L342.7,201.27 L343.7,201.29 L344.7,201.31 L345.7,201.32 L346.7,201.33 L347.7,201.33 L348.7,201.33 L349.7,201.33 L350.7,201.32 L351.7,201.31 L352.7,201.29 L353.7,201.28 L354.7,201.26 L355.7,201.23 L356.7,201.20 L357.7,201.17 L358.7,201.14 L359.7,201.11 L360.7,201.07 L361.7,201.03 L362.7,200.98 L363.7,200.94 L364.7,200.89 L365.7,200.84 L366.7,200.78 L367.7,200.73 L368.7,200.67 L369.7,200.61 L370.7,200.55 L371.7,200.49 L372.7,200.43 L373.7,200.36 L374.7,200.30 L375.7,200.23 L376.7,200.16 L377.7,200.09 L378.7,200.01 L379.7,199.94 L380.7,199.86 L381.7,199.79 L382.7,199.71 L383.7,199.63 L384.7,199.56 L385.7,199.48 L386.7,199.40 L387.7,199.32 L388.7,199.24 L389.7,199.15 L390.7,199.07 L391.7,198.99 L392.7,198.91 L393.7,198.82 L394.7,198.74 L395.7,198.66 L396.7,198.58 L397.7,198.49 L398.7,198.41 L399.7,198.33 L400.7,198.25 L401.7,198.16 L402.3,198.12" stroke="#00ff00" stroke-width="1.9" stroke-dasharray="11.3 10.5"/>
<path d="M402.3,198.12 L403.3,198.03 L404.3,197.95 L405.3,197.87 L406.3,197.79 L407.3,197.70 L408.3,197.62 L409.3,197.53 L410.3,197.44 L411.3,197.35 L412.3,197.26 L413.3,197.17 L414.3,197.08 L415.3,196.98 L416.3,196.88 L417.3,196.78 L418.3,196.67 L419.3,196.56 L420.3,196.45 L421.3,196.34 L422.3,196.22 L423.3,196.10 L424.3,195.98 L425.3,195.85 L426.3,195.72 L427.3,195.58 L428.3,195.44 L429.3,195.30 L430.3,195.15 L431.3,195.00 L432.3,194.85 L433.3,194.70 L434.3,194.54 L435.3,194.38 L436.3,194.23 L437.3,194.06 L438.3,193.90 L439.3,193.74 L440.3,193.57 L441.3,193.40 L442.3,193.24 L443.3,193.07 L444.3,192.90 L445.3,192.73 L446.3,192.56 L447.3,192.40 L448.3,192.23 L449.3,192.06 L450.3,191.90 L451.3,191.73 L452.3,191.57 L453.3,191.41 L454.3,191.26 L455.3,191.10 L456.3,190.96 L457.3,190.81 L458.3,190.67 L459.3,190.54 L460.3,190.41 L461.3,190.28 L462.3,190.17 L463.3,190.05 L464.3,189.95 L465.3,189.85 L466.3,189.76 L466.5,189.75" stroke="#00ff00" stroke-width="1.9" stroke-dasharray="11.3 10.5"/>

<path d="M80.5,99.79 L81.5,99.80 L82.5,99.82 L83.5,99.84 L84.5,99.88 L85.5,99.93 L86.5,99.98 L87.5,100.04 L88.5,100.11 L89.5,100.19 L90.5,100.28 L91.5,100.38 L92.5,100.48 L93.5,100.60 L94.5,100.72 L95.5,100.85 L96.5,100.98 L97.5,101.13 L98.5,101.28 L99.5,101.44 L100.5,101.61 L101.5,101.79 L102.5,101.97 L103.5,102.16 L104.5,102.36 L105.5,102.57 L106.5,102.78 L107.5,103.00 L108.5,103.23 L109.5,103.46 L110.5,103.70 L111.5,103.95 L112.5,104.21 L113.5,104.47 L114.5,104.73 L115.5,105.01 L116.5,105.29 L117.5,105.58 L118.5,105.87 L119.5,106.17 L120.5,106.47 L121.5,106.78 L122.5,107.10 L123.5,107.42 L124.5,107.75 L125.5,108.09 L126.5,108.43 L127.5,108.77 L128.5,109.12 L129.5,109.48 L130.5,109.84 L131.5,110.21 L132.5,110.58 L133.5,110.96 L134.5,111.34 L135.5,111.73 L136.5,112.12 L137.5,112.51 L138.5,112.91 L139.5,113.32 L140.5,113.73 L141.5,114.14 L142.5,114.56 L143.5,114.98 L144.5,115.41 L145.5,115.84 L146.5,116.28 L147.5,116.71 L148.5,117.16 L149.5,117.60 L150.5,118.05 L151.5,118.50 L152.5,118.96 L153.5,119.42 L154.5,119.88 L155.5,120.35 L156.5,120.82 L157.5,121.29 L158.5,121.77 L159.5,122.25 L160.5,122.73 L161.5,123.21 L162.5,123.70 L163.5,124.19 L164.5,124.68 L165.5,125.18 L166.5,125.67 L167.5,126.17 L168.5,126.67 L169.5,127.18 L170.5,127.68 L171.5,128.19 L172.5,128.70 L173.5,129.21 L174.5,129.72 L175.5,130.24 L176.5,130.75 L177.5,131.27 L178.5,131.79 L179.5,132.31 L180.5,132.83 L181.5,133.35 L182.5,133.87 L183.5,134.40 L184.5,134.92 L185.5,135.45 L186.5,135.97 L187.5,136.50 L188.5,137.03 L189.5,137.56 L190.5,138.09 L191.5,138.62 L192.5,139.15 L193.5,139.68 L194.5,140.21 L195.5,140.74 L196.5,141.27 L197.5,141.80 L198.5,142.33 L199.5,142.87 L200.5,143.40 L201.5,143.93 L202.5,144.46 L203.5,144.99 L204.5,145.52 L205.5,146.05 L206.5,146.58 L207.5,147.11 L208.5,147.64 L209.5,148.17 L210.5,148.70 L211.5,149.23 L212.5,149.75 L213.5,150.28 L214.5,150.80 L215.5,151.33 L216.5,151.85 L217.5,152.37 L218.5,152.90 L219.5,153.42 L220.5,153.93 L221.5,154.45 L222.5,154.97 L223.5,155.48 L224.5,156.00 L225.5,156.51 L226.5,157.02 L227.5,157.53 L228.5,158.04 L229.5,158.54 L230.5,159.05 L231.5,159.55 L232.5,160.05 L233.5,160.55 L234.5,161.04 L235.5,161.54 L236.5,162.03 L237.5,162.52 L238.5,163.01 L239.5,163.50 L240.5,163.98 L240.7,164.08" stroke="#ff0000" stroke-width="1.9" stroke-dasharray="11.3 10.5"/>
<path d="M240.7,164.08 L241.7,164.56 L242.7,165.03 L243.7,165.51 L244.7,165.98 L245.7,166.45 L246.7,166.92 L247.7,167.39 L248.7,167.85 L249.7,168.31 L250.7,168.76 L251.7,169.22 L252.7,169.67 L253.7,170.12 L254.7,170.56 L255.7,171.00 L256.7,171.44 L257.7,171.87 L258.7,172.30 L259.7,172.73 L260.7,173.16 L261.7,173.58 L262.7,173.99 L263.7,174.41 L264.7,174.82 L265.7,175.22 L266.7,175.63 L267.7,176.02 L268.7,176.42 L269.7,176.81 L270.7,177.19 L271.7,177.58 L272.7,177.96 L273.7,178.33 L274.7,178.70 L275.7,179.06 L276.7,179.43 L277.7,179.78 L278.7,180.14 L279.7,180.48 L280.7,180.83 L281.7,181.17 L282.7,181.51 L283.7,181.84 L284.7,182.17 L285.7,182.49 L286.7,182.81 L287.7,183.13 L288.7,183.44 L289.7,183.75 L290.7,184.05 L291.7,184.35 L292.7,184.65 L293.7,184.94 L294.7,185.23 L295.7,185.51 L296.7,185.79 L297.7,186.07 L298.7,186.34 L299.7,186.61 L300.7,186.87 L301.7,187.13 L302.7,187.39 L303.7,187.64 L304.7,187.89 L305.7,188.13 L306.7,188.37 L307.7,188.60 L308.7,188.84 L309.7,189.06 L310.7,189.29 L311.7,189.51 L312.7,189.72 L313.7,189.94 L314.7,190.14 L315.7,190.35 L316.7,190.55 L317.7,190.75 L318.7,190.94 L319.7,191.13 L320.7,191.31 L321.7,191.49 L322.7,191.67 L323.7,191.84 L324.7,192.01 L325.7,192.18 L326.7,192.34 L327.7,192.50 L328.7,192.65 L329.7,192.80 L330.7,192.95 L331.7,193.09 L332.7,193.23 L333.7,193.36 L334.7,193.49 L335.7,193.62 L336.7,193.74 L337.7,193.86 L338.7,193.98 L339.7,194.09 L340.7,194.20 L341.7,194.30 L342.7,194.40 L343.7,194.50 L344.7,194.59 L345.7,194.68 L346.7,194.76 L347.7,194.85 L348.7,194.92 L349.7,195.00 L350.7,195.07 L351.7,195.13 L352.7,195.20 L353.7,195.26 L354.7,195.31 L355.7,195.36 L356.7,195.41 L357.7,195.46 L358.7,195.50 L359.7,195.53 L360.7,195.57 L361.7,195.60 L362.7,195.62 L363.7,195.65 L364.7,195.66 L365.7,195.68 L366.7,195.69 L367.7,195.70 L368.7,195.70 L369.7,195.70 L370.7,195.70 L371.7,195.70 L372.7,195.69 L373.7,195.67 L374.7,195.66 L375.7,195.64 L376.7,195.61 L377.7,195.59 L378.7,195.56 L379.7,195.53 L380.7,195.49 L381.7,195.45 L382.7,195.41 L383.7,195.37 L384.7,195.32 L385.7,195.27 L386.7,195.22 L387.7,195.17 L388.7,195.11 L389.7,195.05 L390.7,194.99 L391.7,194.92 L392.7,194.85 L393.7,194.78 L394.7,194.71 L395.7,194.64 L396.7,194.56 L397.7,194.48 L398.7,194.40 L399.7,194.32 L400.7,194.23 L401.7,194.14 L402.3,194.09" stroke="#ff0000" stroke-width="1.9" stroke-dasharray="11.3 10.5"/>
<path d="M402.3,194.09 L403.3,194.00 L404.3,193.91 L405.3,193.81 L406.3,193.72 L407.3,193.62 L408.3,193.52 L409.3,193.42 L410.3,193.32 L411.3,193.21 L412.3,193.11 L413.3,193.00 L414.3,192.89 L415.3,192.78 L416.3,192.67 L417.3,192.56 L418.3,192.45 L419.3,192.33 L420.3,192.22 L421.3,192.10 L422.3,191.98 L423.3,191.86 L424.3,191.74 L425.3,191.62 L426.3,191.50 L427.3,191.38 L428.3,191.26 L429.3,191.13 L430.3,191.01 L431.3,190.89 L432.3,190.76 L433.3,190.63 L434.3,190.51 L435.3,190.38 L436.3,190.26 L437.3,190.13 L438.3,190.00 L439.3,189.87 L440.3,189.75 L441.3,189.62 L442.3,189.49 L443.3,189.36 L444.3,189.24 L445.3,189.11 L446.3,188.98 L447.3,188.85 L448.3,188.73 L449.3,188.60 L450.3,188.47 L451.3,188.35 L452.3,188.22 L453.3,188.10 L454.3,187.97 L455.3,187.85 L456.3,187.72 L457.3,187.60 L458.3,187.48 L459.3,187.36 L460.3,187.24 L461.3,187.12 L462.3,187.00 L463.3,186.88 L464.3,186.77 L465.3,186.65 L466.3,186.54 L466.5,186.52" stroke="#ff0000" stroke-width="1.9" stroke-dasharray="11.3 10.5"/>

</g>
<g fill="#1e1e1e" font-size="13.4" filter="url(#idf)" stroke="#ffffff" stroke-width="0.16">
<text x="76" y="45.4" text-anchor="end" textLength="36" lengthAdjust="spacingAndGlyphs">100.0</text>
<text x="76" y="99.9" text-anchor="end" textLength="28" lengthAdjust="spacingAndGlyphs">10.0</text>
<text x="76" y="154.3" text-anchor="end" textLength="20" lengthAdjust="spacingAndGlyphs">1.0</text>
<text x="76" y="208.7" text-anchor="end" textLength="20" lengthAdjust="spacingAndGlyphs">0.1</text>
<text x="80.5" y="239" text-anchor="middle" textLength="7.5" lengthAdjust="spacingAndGlyphs">0</text>
<text x="187.7" y="239" text-anchor="middle" textLength="15.8" lengthAdjust="spacingAndGlyphs">50</text>
<text x="295.2" y="239" text-anchor="middle" textLength="23" lengthAdjust="spacingAndGlyphs">100</text>
<text x="402.7" y="239" text-anchor="middle" textLength="23" lengthAdjust="spacingAndGlyphs">150</text>
<text x="188.1" y="255.9" textLength="65.2" lengthAdjust="spacingAndGlyphs">Scattering</text>
<text x="261.9" y="255.9" textLength="38.3" lengthAdjust="spacingAndGlyphs">angle,</text>
<text x="308.3" y="255.9" textLength="10.0" lengthAdjust="spacingAndGlyphs" font-style="italic">φ</text>
<text x="324.9" y="255.9" textLength="33.6" lengthAdjust="spacingAndGlyphs">[deg]</text>
<g transform="translate(26.7,148) rotate(-90)">
<text x="-0.2" y="0">4</text>
<text x="8.6" y="0" textLength="7.6" lengthAdjust="spacingAndGlyphs">π</text>
<text x="24.2" y="0">p</text>
<text x="38.6" y="0" textLength="8.2" lengthAdjust="spacingAndGlyphs" font-style="italic">φ</text>
</g>
</g>
<g fill="none" stroke="#1e1e1e" stroke-width="0.9">
<path d="M15.2,111.5 Q22.7,118.6 30.2,111.5"/>
<path d="M15.2,100.2 Q22.7,93.1 30.2,100.2"/>
</g>
<g font-size="12.4" filter="url(#idf)" stroke="#ffffff" stroke-width="0.16">
<text x="188.3" y="61.9" textLength="25.7" lengthAdjust="spacingAndGlyphs" fill="#2424ff">0.43</text>
<text x="220.9" y="61.9" textLength="9.4" lengthAdjust="spacingAndGlyphs" font-style="italic" fill="#2424ff">μ</text>
<text x="230.10000000000002" y="61.9" textLength="10.6" lengthAdjust="spacingAndGlyphs" fill="#2424ff">m</text>
<text x="274.2" y="61.9" textLength="25.7" lengthAdjust="spacingAndGlyphs" fill="#24ff24">0.55</text>
<text x="306.79999999999995" y="61.9" textLength="9.4" lengthAdjust="spacingAndGlyphs" font-style="italic" fill="#24ff24">μ</text>
<text x="315.99999999999994" y="61.9" textLength="10.6" lengthAdjust="spacingAndGlyphs" fill="#24ff24">m</text>
<text x="360.2" y="61.9" textLength="17.2" lengthAdjust="spacingAndGlyphs" fill="#ff2424">0.8</text>
<text x="384.29999999999995" y="61.9" textLength="9.4" lengthAdjust="spacingAndGlyphs" font-style="italic" fill="#ff2424">μ</text>
<text x="393.49999999999994" y="61.9" textLength="10.6" lengthAdjust="spacingAndGlyphs" fill="#ff2424">m</text>
</g>
</svg></body></html>
